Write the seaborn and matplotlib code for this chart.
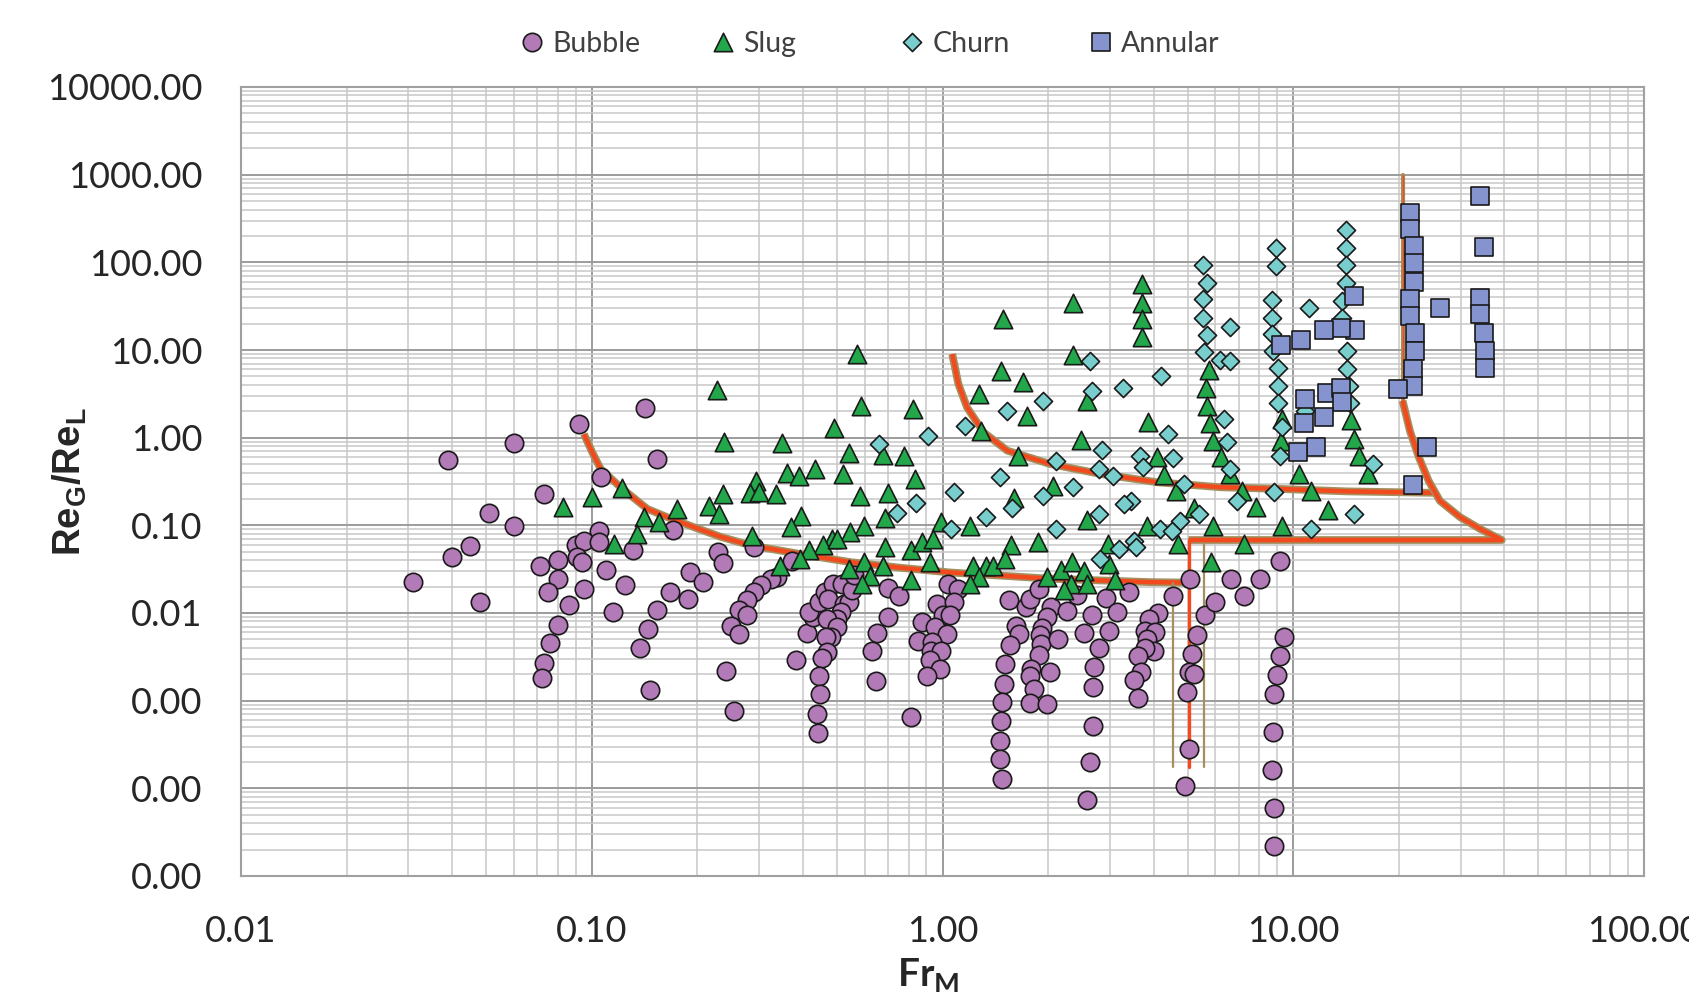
import numpy as np
import pandas as pd
import matplotlib
matplotlib.use("Agg")
import matplotlib.pyplot as plt
import matplotlib.patheffects as pe
from matplotlib.ticker import LogLocator, FormatStrFormatter, NullFormatter
import seaborn as sns

# ---- data: Fr_M (x) vs Re_G/Re_L (y) ----
bubble_fr = [0.142, 0.092, 0.060, 0.039, 0.153, 0.106, 0.073, 0.051, 0.060, 0.171,
             0.105, 0.045, 0.040, 0.031, 0.048, 0.090, 0.095, 0.105, 0.080, 0.091,
             0.094, 0.071, 0.080, 0.075, 0.095, 0.086, 0.080, 0.076, 0.073, 0.072,
             0.110, 0.131, 0.124, 0.115, 0.153, 0.145, 0.137, 0.147, 0.167, 0.188,
             0.191, 0.207, 0.290, 0.229, 0.236, 0.373,
             0.338, 0.324, 0.303, 0.290, 0.278, 0.263, 0.278, 0.250, 0.263, 0.241,
             0.255, 0.381, 0.410, 0.428, 0.416, 0.444, 0.461, 0.488, 0.518, 0.473,
             0.523, 0.541, 0.553, 0.512, 0.501, 0.469, 0.499, 0.480, 0.464, 0.468,
             0.454, 0.444, 0.447, 0.438, 0.443, 0.558, 0.700, 0.754, 0.698, 0.651,
             0.630, 0.647, 0.811, 1.04, 1.11, 0.966, 1.08, 0.875, 1.00, 1.05,
             0.955, 0.851, 1.03, 0.935, 0.929, 0.987, 0.924, 0.982, 0.904,
             1.55, 1.62, 1.65, 1.56, 1.51, 1.50, 1.48, 1.47, 1.46, 1.46,
             1.48, 1.73, 1.78, 1.89, 2.04, 1.99, 1.92, 1.90, 1.91, 1.88,
             1.79, 1.78, 1.82, 1.78, 1.99, 2.02, 2.14, 2.27, 2.42, 2.67,
             2.53, 2.79, 2.71, 2.68, 2.68, 2.63, 2.58, 2.93, 3.15, 2.98,
             3.40, 4.11, 3.87, 3.79, 4.04, 3.83, 4.02, 3.79, 3.60, 3.68,
             3.52, 3.60, 4.54, 5.07, 5.61, 6.00, 5.32, 5.14, 5.03, 5.20,
             4.98, 5.03, 4.90, 6.65, 8.05, 9.14, 7.24, 9.40, 9.14, 8.99,
             8.83, 8.75, 8.69, 8.83, 8.83]
bubble_re = [2.2, 1.42, 0.88, 0.56, 0.57, 0.36, 0.23, 0.14, 0.097, 0.088,
             0.086, 0.058, 0.044, 0.0225, 0.0133, 0.059, 0.067, 0.064, 0.040, 0.043,
             0.038, 0.034, 0.0246, 0.0173, 0.0189, 0.0122, 0.0073, 0.0045, 0.0027, 0.0018,
             0.031, 0.053, 0.021, 0.0104, 0.0107, 0.0066, 0.0040, 0.00134, 0.0173, 0.0145,
             0.029, 0.0225, 0.0564, 0.049, 0.0374, 0.0397,
             0.0256, 0.0246, 0.0206, 0.0173, 0.0139, 0.0107, 0.0094, 0.0072, 0.0058, 0.0022,
             0.00076, 0.0029, 0.0059, 0.0091, 0.0102, 0.0133, 0.0173, 0.0216, 0.0216, 0.0146,
             0.0128, 0.0133, 0.0181, 0.0102, 0.0086, 0.0086, 0.0069, 0.0053, 0.0053, 0.0036,
             0.0031, 0.0019, 0.00118, 0.00071, 0.00043, 0.0268, 0.0194, 0.0155, 0.0090, 0.0059,
             0.0037, 0.00168, 0.00065, 0.0216, 0.0189, 0.0128, 0.0133, 0.0079, 0.0094, 0.0094,
             0.0069, 0.0048, 0.0057, 0.0047, 0.0037, 0.0037, 0.0029, 0.0023, 0.0019,
             0.0142, 0.0072, 0.0058, 0.0043, 0.0026, 0.00156, 0.00097, 0.00059, 0.00035, 0.000215,
             0.000127, 0.0117, 0.0146, 0.0189, 0.0117, 0.0091, 0.0068, 0.0056, 0.0044, 0.0033,
             0.0023, 0.0019, 0.00137, 0.00093, 0.00091, 0.0021, 0.0050, 0.0105, 0.0159, 0.0096,
             0.0059, 0.0040, 0.0024, 0.00143, 0.00052, 0.0002, 0.000073, 0.0149, 0.0102, 0.0062,
             0.0173, 0.0100, 0.0086, 0.0063, 0.0061, 0.0050, 0.0037, 0.0040, 0.0032, 0.0021,
             0.0017, 0.00106, 0.0155, 0.0246, 0.0094, 0.0133, 0.0056, 0.0034, 0.0021, 0.0020,
             0.00126, 0.00028, 0.000106, 0.0246, 0.0246, 0.0397, 0.0155, 0.0053, 0.0032, 0.00195,
             0.0012, 0.00044, 0.000161, 0.000059, 0.000022]

slug_fr = [0.083, 0.100, 0.122, 0.175, 0.141, 0.155, 0.135, 0.116,
           0.571, 0.227, 0.584, 0.822, 0.490, 0.238, 0.349, 0.543, 0.678, 0.776,
           0.361, 0.390, 0.432, 0.52, 0.834, 0.293, 0.282, 0.30, 0.336, 0.237,
           0.216, 0.231, 0.581, 0.70, 0.394, 0.369, 0.685, 0.597, 0.987, 0.287,
           0.544, 0.483, 0.457, 0.501, 0.416, 0.392, 0.343, 0.685, 0.815, 0.875,
           0.938, 0.924, 0.597, 0.678, 0.542, 0.621, 0.590, 0.815,
           1.49, 2.35, 3.70, 3.70, 3.70, 3.70, 2.36, 1.47, 1.70, 1.27,
           2.59, 1.74, 1.29, 3.85, 2.49, 1.64, 4.10, 4.29, 4.63, 2.06,
           1.60, 2.59, 3.82, 1.20, 1.87, 1.57, 2.96, 4.68, 5.22,
           1.22, 1.33, 1.39, 1.51, 1.27, 1.20, 1.99, 2.17, 2.34, 2.53,
           2.32, 2.22, 2.59, 2.98, 3.10, 5.84,
           5.74, 5.65, 5.67, 5.78, 5.89, 6.23, 6.59, 7.15, 7.85, 5.89,
           9.28, 9.25, 10.4, 11.2, 12.6, 9.28, 14.6, 14.9, 15.4, 16.3, 7.24]
slug_re = [0.161, 0.209, 0.27, 0.154, 0.124, 0.108, 0.080, 0.061,
           9.0, 3.49, 2.31, 2.12, 1.29, 0.885, 0.87, 0.67, 0.635, 0.61,
           0.392, 0.362, 0.44, 0.386, 0.338, 0.324, 0.232, 0.238, 0.228, 0.228,
           0.168, 0.135, 0.218, 0.232, 0.129, 0.095, 0.122, 0.0995, 0.108, 0.0765,
           0.085, 0.070, 0.059, 0.070, 0.0517, 0.0415, 0.0348, 0.0564, 0.0517, 0.064,
           0.069, 0.038, 0.038, 0.0348, 0.0319, 0.0263, 0.0216, 0.0235,
           22.5, 34.8, 56.2, 34.8, 22.5, 14.1, 8.8, 5.8, 4.37, 3.14,
           2.59, 1.78, 1.20, 1.49, 0.94, 0.61, 0.60, 0.379, 0.245, 0.284,
           0.206, 0.116, 0.0995, 0.0995, 0.065, 0.059, 0.0615, 0.0615, 0.156,
           0.0348, 0.0348, 0.034, 0.0415, 0.0256, 0.0216, 0.0256, 0.0306, 0.038, 0.030,
           0.0216, 0.0181, 0.0216, 0.0364, 0.0235, 0.038,
           5.9, 3.68, 2.31, 1.46, 0.92, 0.60, 0.386, 0.249, 0.161, 0.097,
           1.63, 0.92, 0.386, 0.245, 0.148, 0.0995, 1.59, 0.97, 0.62, 0.386, 0.0615]

churn_fr = [0.661, 0.91, 1.08, 0.841, 0.743, 1.06,
            2.64, 4.21, 3.27, 2.66, 1.94, 1.53, 1.16, 4.40, 2.84, 3.65,
            3.74, 4.53, 2.11, 2.80, 3.06, 1.46, 2.35, 1.94, 1.58, 4.87,
            3.44, 3.30, 1.33, 2.79, 2.11, 4.76, 4.16, 4.51, 3.51, 3.18,
            3.57, 2.82,
            5.53, 5.67, 5.53, 5.53, 5.67, 5.57, 6.62, 6.17, 6.62, 6.33,
            6.47, 6.62, 6.91, 5.37,
            8.93, 8.93, 8.69, 8.69, 8.69, 8.75, 9.07, 9.07, 9.07, 9.28,
            9.14, 8.79, 11.1, 10.8, 11.2, 14.9, 16.9,
            14.1, 14.1, 14.1, 14.1, 13.8, 13.8, 14.2, 14.2, 14.4, 14.5]
churn_re = [0.847, 1.05, 0.238, 0.179, 0.137, 0.091,
            7.4, 5.08, 3.68, 3.43, 2.59, 2.03, 1.35, 1.10, 0.73, 0.61,
            0.468, 0.586, 0.547, 0.44, 0.369, 0.353, 0.272, 0.218, 0.158, 0.296,
            0.188, 0.175, 0.126, 0.135, 0.091, 0.113, 0.091, 0.087, 0.067, 0.054,
            0.056, 0.0415,
            92.7, 57.8, 38.0, 23.4, 14.9, 9.4, 18.4, 7.67, 7.4, 1.63,
            0.885, 0.44, 0.19, 0.135,
            145, 91, 37.3, 23.4, 15.2, 9.8, 6.2, 3.91, 2.48, 1.31,
            0.62, 0.238, 30, 2.0, 0.091, 0.135, 0.50,
            234, 147, 93, 58.7, 36.3, 23.4, 9.8, 6.06, 3.91, 2.48]

annular_fr = [34.1, 21.5, 21.5, 22.1, 22.1, 22.1, 21.5, 21.5, 22.2, 22.2,
              21.9, 21.9, 19.9, 35.0, 26.2, 34.1, 34.1, 35.0, 35.2, 35.2,
              24.0, 22.0, 14.9, 15.0, 13.7, 12.2, 10.5, 9.22, 10.8, 12.5,
              13.7, 13.8, 12.2, 10.7, 11.6, 10.3]
annular_re = [570, 368, 238, 154, 97, 60.3, 38.0, 24.5, 15.8, 9.8,
              6.15, 3.91, 3.59, 150, 30.0, 39.1, 25.9, 15.8, 9.8, 6.2,
              0.776, 0.29, 41.4, 16.8, 17.7, 16.8, 13.1, 11.4, 2.76, 3.2,
              3.68, 2.52, 1.73, 1.47, 0.79, 0.68]

# transition boundaries
bs_fr = [0.095, 0.100, 0.106, 0.121, 0.144, 0.164, 0.196, 0.233, 0.284, 0.394,
         0.547, 0.76, 1.05, 2.03, 3.91, 5.03]
bs_re = [1.10, 0.70, 0.44, 0.27, 0.154, 0.124, 0.095, 0.074, 0.059, 0.047,
         0.038, 0.0328, 0.029, 0.0246, 0.0225, 0.0222]
sc_fr = [1.066, 1.11, 1.175, 1.31, 1.53, 2.03, 2.82, 4.09, 6.2, 9.18, 14.2, 25.1]
sc_re = [9.0, 4.09, 2.21, 1.15, 0.711, 0.50, 0.386, 0.31, 0.272, 0.26, 0.244, 0.235]
ca_top_fr = [20.5, 20.5]
ca_top_re = [1000, 2.64]
ca_fr = [20.5, 21.5, 22.8, 24.3, 26.2, 29.9, 34.1, 39.3, 5.03]
ca_re = [2.64, 1.2, 0.60, 0.324, 0.19, 0.124, 0.091, 0.068, 0.068]
disp_fr = [5.03, 5.03]
disp_re = [0.068, 1.76e-4]
disp_lo_fr = [4.54, 4.54]
disp_lo_re = [0.0222, 1.76e-4]
disp_hi_fr = [5.55, 5.55]
disp_hi_re = [0.0615, 1.76e-4]

regimes = ["Bubble", "Slug", "Churn", "Annular"]
regime_data = {"Bubble": (bubble_fr, bubble_re), "Slug": (slug_fr, slug_re),
               "Churn": (churn_fr, churn_re), "Annular": (annular_fr, annular_re)}
markers = {"Bubble": "o", "Slug": "^", "Churn": "D", "Annular": "s"}
sizes = {"Bubble": 175, "Slug": 175, "Churn": 85, "Annular": 165}
colors = {"Bubble": "#b27ab6", "Slug": "#22a84a", "Churn": "#78cdcd", "Annular": "#8594cf"}

sns.set_theme(style="white")
plt.rcParams["font.family"] = ["Lato", "DejaVu Sans"]
plt.rcParams["mathtext.default"] = "regular"

fig = plt.figure(figsize=(16.89, 9.98), dpi=100)
ax = fig.add_axes([241 / 1689, 1 - 876 / 998, 1403 / 1689, 789 / 998])
ax.set_xscale("log")
ax.set_yscale("log")
ax.set_xlim(0.01, 100)
ax.set_ylim(1e-5, 1e4)

# boundary lines (red with tan edging), under the markers
red, tan = "#f24a1e", "#a48f5e"
band = [pe.Stroke(linewidth=5.6, foreground=tan), pe.Normal()]
thin = [pe.Stroke(linewidth=3, foreground=tan), pe.Normal()]
ax.plot(bs_fr, bs_re, color=red, lw=3.2, path_effects=band, zorder=2, solid_capstyle="butt")
ax.plot(sc_fr, sc_re, color=red, lw=3.2, path_effects=band, zorder=2, solid_capstyle="butt")
ax.plot(ca_top_fr, ca_top_re, color=red, lw=1.0, path_effects=thin, zorder=2)
ax.plot(ca_fr, ca_re, color=red, lw=3.2, path_effects=band, zorder=2, solid_capstyle="butt")
ax.plot(disp_fr, disp_re, color=red, lw=2.4, zorder=2)
ax.plot(disp_lo_fr, disp_lo_re, color=tan, lw=1.6, zorder=2)
ax.plot(disp_hi_fr, disp_hi_re, color=tan, lw=1.6, zorder=2)

handles = []
for name in regimes:
    fr, re = regime_data[name]
    sns.scatterplot(x=fr, y=re, marker=markers[name], s=sizes[name], color=colors[name],
                    edgecolor="#1a1a1a", linewidth=1.2, ax=ax, legend=False, zorder=3)
    handles.append(ax.collections[-1])

# axes styling in the spreadsheet look
ax.xaxis.set_major_locator(LogLocator(base=10, numticks=20))
ax.yaxis.set_major_locator(LogLocator(base=10, numticks=20))
ax.xaxis.set_minor_locator(LogLocator(base=10, subs=np.arange(2, 10), numticks=200))
ax.yaxis.set_minor_locator(LogLocator(base=10, subs=np.arange(2, 10), numticks=200))
ax.xaxis.set_major_formatter(FormatStrFormatter("%.2f"))
ax.yaxis.set_major_formatter(FormatStrFormatter("%.2f"))
ax.xaxis.set_minor_formatter(NullFormatter())
ax.yaxis.set_minor_formatter(NullFormatter())
ax.set_axisbelow(True)
ax.grid(True, which="minor", color="#c8c8c8", lw=1.1)
ax.grid(True, which="major", color="#9c9c9c", lw=1.4)
ax.tick_params(which="both", length=0)
ax.tick_params(axis="y", labelsize=26, pad=28, labelcolor="#262626")
ax.tick_params(axis="x", labelsize=26, pad=28, labelcolor="#262626")
for sp in ax.spines.values():
    sp.set_color("#a0a0a0")
    sp.set_linewidth(1.5)

ax.set_xlabel(r"Fr$_{M}$", fontsize=28, fontweight="bold", color="#262626")
ax.set_ylabel(r"Re$_{G}$/Re$_{L}$", fontsize=27.5, fontweight="bold", color="#262626",
              family=["Liberation Sans", "DejaVu Sans"])
ax.xaxis.label.set_va("center")
ax.yaxis.label.set_va("center")
ax.xaxis.set_label_coords(0.49, -0.125)
ax.yaxis.set_label_coords(-0.122, 0.5)

# legend: one entry per column, evenly spaced across the top
legend_x = [521 / 1689, 712 / 1689, 901 / 1689, 1090 / 1689]
for h, name, lx in zip(handles, regimes, legend_x):
    fig.legend([h], [name], loc="center left", bbox_to_anchor=(lx, 1 - 44 / 998),
               frameon=False, fontsize=20.5, handlelength=0.8, handletextpad=0.3,
               borderpad=0, borderaxespad=0, scatteryoffsets=[0.5], labelcolor="#404040")

fig.savefig("out.png", dpi=100)
